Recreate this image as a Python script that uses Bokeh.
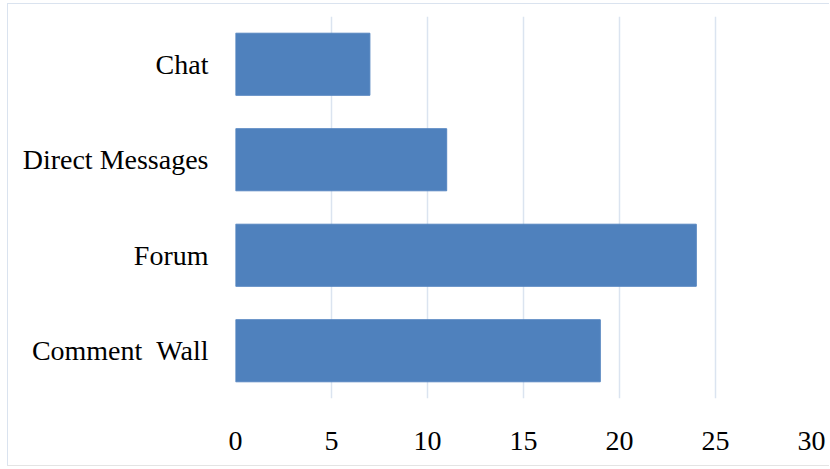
from bokeh.plotting import figure
from bokeh.embed import file_html
from bokeh.resources import INLINE
from bokeh.models import FixedTicker, ColumnDataSource

categories = ["Comment\u00a0\u00a0Wall", "Forum", "Direct Messages", "Chat"]
values = [19, 24, 11, 7]
x_ticks = [0, 5, 10, 15, 20, 25, 30]

source = ColumnDataSource(dict(cat=categories, val=values))

p = figure(width=822, height=463, y_range=categories, x_range=(0, 30),
           output_backend="svg", toolbar_location=None,
           min_border_left=227, min_border_right=19, min_border_top=12, min_border_bottom=69)
p.y_range.range_padding = 0
p.styles = {"margin-left": "7px", "margin-top": "3px",
            "border-left": "1px solid #dae3ef", "border-top": "1px solid #dae3ef",
            "border-bottom": "1px solid #e4e4e4"}

p.hbar(y="cat", right="val", left=0, height=0.65, source=source,
       fill_color="#4f81bd", line_color="#5585c0", line_width=1)

p.outline_line_color = None
p.background_fill_color = "white"
p.border_fill_color = "white"

p.xaxis.ticker = FixedTicker(ticks=x_ticks)
p.xaxis.axis_line_color = None
p.xaxis.major_tick_line_color = None
p.xaxis.minor_tick_line_color = None
p.xaxis.major_label_standoff = 27
p.xaxis.major_label_text_font = "Liberation Serif"
p.xaxis.major_label_text_font_size = "28px"
p.xaxis.major_label_text_color = "black"

p.yaxis.axis_line_color = None
p.yaxis.major_tick_line_color = None
p.yaxis.minor_tick_line_color = None
p.yaxis.major_label_standoff = 21
p.yaxis.major_label_text_font = "Liberation Serif"
p.yaxis.major_label_text_font_size = "28px"
p.yaxis.major_label_text_color = "black"

p.xgrid.grid_line_color = "#dbe4f0"
p.xgrid.grid_line_width = 1.5
p.ygrid.grid_line_color = None

open("out.html", "w").write(file_html(p, INLINE))
